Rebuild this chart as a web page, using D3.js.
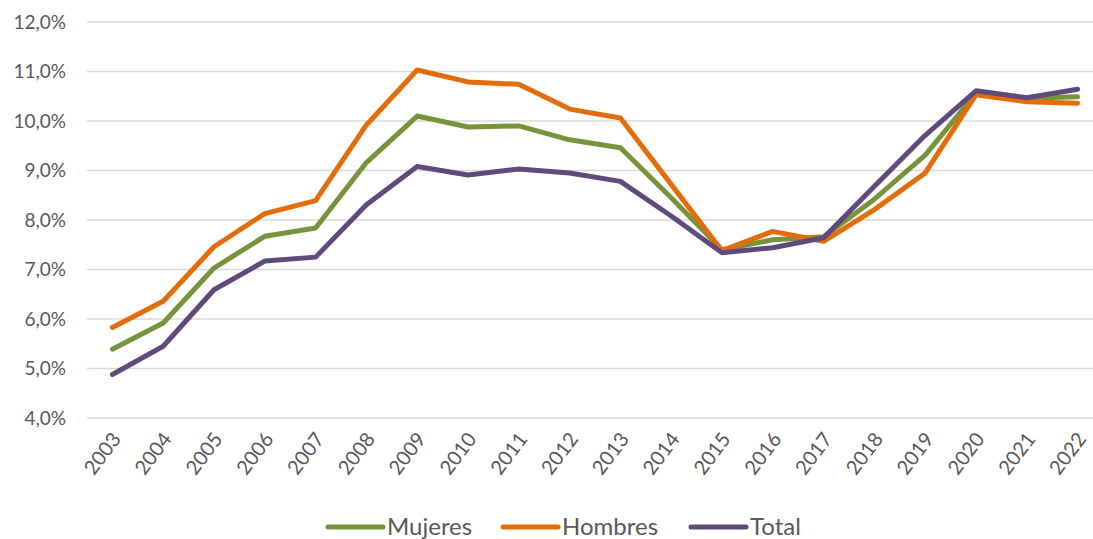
<!DOCTYPE html>
<html>
<head>
<meta charset="utf-8">
<script src="https://cdn.jsdelivr.net/npm/d3@7"></script>
<style>
  body { margin: 0; background: #fff; }
  text { font-family: "Lato", "Open Sans", sans-serif; fill: #595959; }
</style>
</head>
<body>
<div id="chart"></div>
<script>
var years = ["2003","2004","2005","2006","2007","2008","2009","2010","2011","2012",
             "2013","2014","2015","2016","2017","2018","2019","2020","2021","2022"];
var mujeres = [5.39,5.92,7.03,7.67,7.84,9.16,10.10,9.88,9.90,9.62,9.46,8.45,7.40,7.60,7.66,8.42,9.31,10.56,10.46,10.49];
var hombres = [5.83,6.36,7.46,8.13,8.39,9.92,11.03,10.79,10.74,10.24,10.06,8.72,7.38,7.77,7.57,8.21,8.95,10.53,10.39,10.36];
var total   = [4.88,5.45,6.59,7.17,7.25,8.31,9.08,8.91,9.03,8.95,8.78,8.08,7.34,7.44,7.64,8.68,9.71,10.61,10.47,10.64];
var yTicks = [4,5,6,7,8,9,10,11,12];

var series = [
  {name: "Mujeres", values: mujeres, color: "#77933C"},
  {name: "Hombres", values: hombres, color: "#E46C0A"},
  {name: "Total",   values: total,   color: "#604A7B"}
];

var svgWidth = 1093, svgHeight = 539;
var margin = {top: 22, right: -10, bottom: 121, left: 87};
var width = svgWidth - margin.left - margin.right;
var height = svgHeight - margin.top - margin.bottom;

var svg = d3.select("#chart").append("svg")
  .attr("width", svgWidth)
  .attr("height", svgHeight);

var g = svg.append("g")
  .attr("transform", `translate(${margin.left}, ${margin.top})`);

var x = d3.scalePoint()
  .domain(years)
  .range([0, width])
  .padding(0.5);

var y = d3.scaleLinear()
  .domain([4, 12])
  .range([height, 0]);

// gridlines
g.selectAll(".grid")
  .data(yTicks)
  .enter()
  .append("line")
  .attr("x1", 0)
  .attr("x2", width)
  .attr("y1", d => y(d))
  .attr("y2", d => y(d))
  .attr("stroke", "#d9d9d9")
  .attr("stroke-width", 1.5);

// y labels
g.selectAll(".ylab")
  .data(yTicks)
  .enter()
  .append("text")
  .attr("x", -21)
  .attr("y", d => y(d))
  .attr("dy", "0.35em")
  .attr("text-anchor", "end")
  .style("font-size", "19px")
  .text(d => d.toFixed(1).replace(".", ",") + "%");

// x labels
g.selectAll(".xlab")
  .data(years)
  .enter()
  .append("text")
  .attr("transform", d => `translate(${x(d) + 4}, ${height + 17}) rotate(-53)`)
  .attr("text-anchor", "end")
  .attr("dy", "0.35em")
  .style("font-size", "20px")
  .text(d => d);

var line = d3.line()
  .x((d, i) => x(years[i]))
  .y(d => y(d));

g.selectAll(".series")
  .data(series)
  .enter()
  .append("path")
  .attr("fill", "none")
  .attr("stroke", d => d.color)
  .attr("stroke-width", 5)
  .attr("stroke-linejoin", "round")
  .attr("stroke-linecap", "round")
  .attr("d", d => line(d.values));

// legend
var legendX = [328, 503, 691];
var legend = svg.selectAll(".legend")
  .data(series)
  .enter()
  .append("g")
  .attr("transform", (d, i) => `translate(${legendX[i]}, 527)`);

legend.append("line")
  .attr("x1", 0).attr("x2", 55)
  .attr("y1", 0).attr("y2", 0)
  .attr("stroke", d => d.color)
  .attr("stroke-width", 5)
  .attr("stroke-linecap", "round");

legend.append("text")
  .attr("x", 59)
  .attr("y", 0)
  .attr("dy", "0.35em")
  .style("font-size", "24px")
  .text(d => d.name);
</script>
</body>
</html>
